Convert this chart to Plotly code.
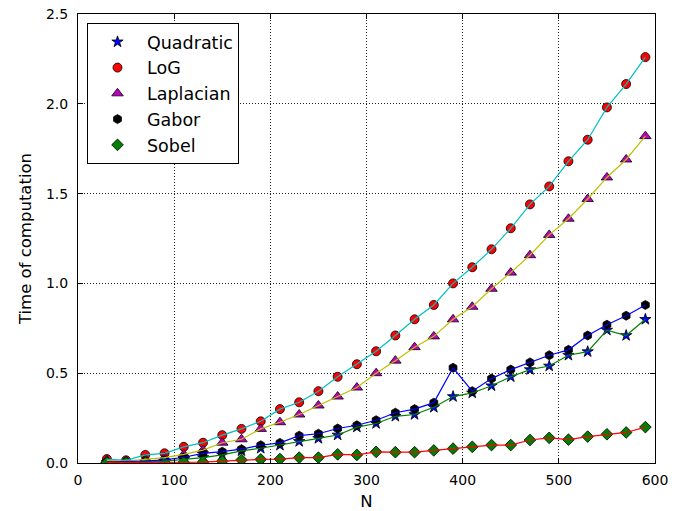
import plotly.graph_objects as go

N = [30, 50, 70, 90, 110, 130, 150, 170, 190, 210, 230, 250, 270, 290, 310,
     330, 350, 370, 390, 410, 430, 450, 470, 490, 510, 530, 550, 570, 590]

quadratic = [0.003, 0.003, 0.006, 0.010, 0.020, 0.030, 0.045, 0.068, 0.082, 0.099,
             0.120, 0.137, 0.156, 0.200, 0.220, 0.260, 0.270, 0.310, 0.370, 0.390,
             0.430, 0.480, 0.520, 0.540, 0.600, 0.620, 0.740, 0.710, 0.800]
log_ = [0.022, 0.015, 0.045, 0.054, 0.090, 0.113, 0.155, 0.190, 0.232, 0.300,
        0.338, 0.400, 0.480, 0.550, 0.622, 0.710, 0.800, 0.880, 1.000, 1.090,
        1.190, 1.307, 1.440, 1.540, 1.680, 1.800, 1.980, 2.110, 2.260]
laplacian = [0.015, 0.010, 0.020, 0.030, 0.048, 0.072, 0.113, 0.132, 0.190, 0.227,
             0.270, 0.320, 0.370, 0.420, 0.500, 0.570, 0.645, 0.705, 0.800, 0.870,
             0.970, 1.060, 1.157, 1.270, 1.360, 1.470, 1.590, 1.690, 1.820]
gabor = [0.006, 0.006, 0.010, 0.017, 0.032, 0.054, 0.063, 0.077, 0.099, 0.112,
         0.152, 0.163, 0.192, 0.210, 0.238, 0.280, 0.300, 0.336, 0.530, 0.400,
         0.470, 0.520, 0.560, 0.600, 0.630, 0.710, 0.770, 0.820, 0.880]
sobel = [0.003, 0.003, 0.003, 0.003, 0.004, 0.005, 0.010, 0.017, 0.020, 0.022,
         0.030, 0.030, 0.048, 0.045, 0.062, 0.060, 0.060, 0.070, 0.080, 0.090,
         0.100, 0.100, 0.128, 0.140, 0.130, 0.147, 0.160, 0.170, 0.200]

x_ticks = [0, 100, 200, 300, 400, 500, 600]
y_ticks = [0.0, 0.5, 1.0, 1.5, 2.0, 2.5]

# (name, values, marker symbol, marker colour, marker size, line colour)
series = [
    ("Quadratic", quadratic, "star", "#0000ff", 8.5, "#008000"),
    ("LoG", log_, "circle", "#ff0000", 9, "#00bfbf"),
    ("Laplacian", laplacian, "triangle-up", "#bf00bf", 10, "#bfbf00"),
    ("Gabor", gabor, "hexagon", "#000000", 9, "#0000ff"),
    ("Sobel", sobel, "diamond", "#008000", 9, "#ff0000"),
]

fig = go.Figure()
for name, vals, sym, mcol, msize, lcol in series:
    fig.add_trace(go.Scatter(
        x=N, y=vals, mode="markers", name=name, legendgroup=name,
        marker=dict(symbol=sym, color=mcol, size=msize,
                    line=dict(color="black", width=0.8)),
    ))
for name, vals, sym, mcol, msize, lcol in series:
    fig.add_trace(go.Scatter(
        x=N, y=vals, mode="lines", showlegend=False, hoverinfo="skip",
        line=dict(color=lcol, width=1.2),
    ))

axis_common = dict(
    showline=True, linecolor="black", linewidth=1, mirror="ticks",
    ticks="inside", ticklen=5, tickcolor="black", tickwidth=1,
    showgrid=True, gridcolor="#222", gridwidth=0.8, griddash="1px,2px",
    zeroline=False, automargin=False,
    tickfont=dict(family="DejaVu Sans", size=14, color="black"),
)

fig.update_xaxes(range=[0, 600], tickvals=x_ticks, ticktext=[str(v) for v in x_ticks],
                 title=dict(text="N", font=dict(family="DejaVu Sans", size=16.5, color="black"),
                            standoff=13),
                 ticklabelstandoff=4,
                 **axis_common)
fig.update_yaxes(range=[0, 2.5], tickvals=y_ticks, ticktext=[f"{v:.1f}" for v in y_ticks],
                 title=dict(text="Time of computation",
                            font=dict(family="DejaVu Sans", size=16.5, color="black"),
                            standoff=10),
                 ticklabelstandoff=6,
                 **axis_common)

fig.update_layout(
    width=685, height=511,
    margin=dict(l=78, r=30, t=14, b=48, pad=0, autoexpand=False),
    paper_bgcolor="white", plot_bgcolor="white",
    font=dict(family="DejaVu Sans", color="black"),
    showlegend=True,
    legend=dict(
        x=0.0156, y=0.98, xanchor="left", yanchor="top",
        bgcolor="white", bordercolor="black", borderwidth=1,
        font=dict(family="DejaVu Sans", size=17.5, color="black"),
        itemwidth=49, traceorder="grouped", tracegroupgap=0,
    ),
)

fig.write_html("out.html",
               config={"displayModeBar": False},
               post_script="document.body.style.margin='0';document.body.style.padding='0';")
